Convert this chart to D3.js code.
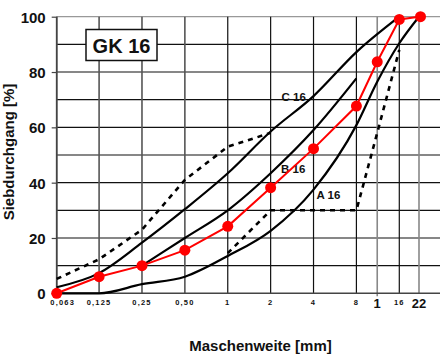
<!DOCTYPE html>
<html>
<head>
<meta charset="utf-8">
<script src="https://cdn.jsdelivr.net/npm/d3@7"></script>
<style>
  body { margin: 0; background: #fff; }
  svg { display: block; font-family: "Liberation Sans", Arial, sans-serif; }
</style>
</head>
<body>
<div id="chart"></div>
<script>
// sieve sizes (mm) and the labels printed under them
var sieves = [0.063, 0.125, 0.25, 0.5, 1, 2, 4, 8, 11.2, 16, 22];
var sieveLabels = ["0,063", "0,125", "0,25", "0,50", "1", "2", "4", "8", "1", "16", "22"];

var yTicks = [0, 20, 40, 60, 80, 100];
var yGrid = [10, 20, 30, 40, 50, 60, 70, 80, 90, 100];

// grading curves, passing % per sieve
var sievesA = [0.063, 0.125, 0.25, 0.5, 1, 2, 4, 8, 11.2, 16, 22];
var curveA = [0, 0, 3.3, 6, 13.5, 22.6, 37.5, 60.8, 76.5, 90.4, 100];

var sievesB = [0.25, 0.5, 1, 2, 4, 8];
var curveB = [10, 20, 30, 43.4, 59, 77.7];

var sievesC = [0.063, 0.125, 0.25, 0.5, 1, 2, 4, 8, 16];
var curveC = [2.2, 7.3, 18.3, 30.4, 43.4, 58.5, 71.3, 87.2, 100];

var sievesU1 = [0.063, 0.125, 0.25, 0.5, 1, 2];
var curveU1 = [5.2, 12.3, 23, 41, 53, 58];

var sievesU2 = [1, 2, 8, 11.2, 16];
var curveU2 = [14.5, 30, 30, 58, 88];

// measured mix (red)
var mixValues = [0, 6, 10, 15.6, 24.2, 38.2, 52.3, 67.7, 83.7, 99, 100];

var width = 440, height = 354;

var svg = d3.select("#chart").append("svg")
    .attr("width", width)
    .attr("height", height);

var x = d3.scaleLog().domain([0.063, 22]).range([56.7, 419]);
var y = d3.scaleLinear().domain([0, 100]).range([293.3, 16.7]);

var grid = svg.append("g");

// horizontal grid
grid.selectAll("line.h").data(yGrid).enter().append("line")
    .attr("class", "h")
    .attr("x1", x(0.063)).attr("x2", width)
    .attr("y1", function (d) { return y(d); })
    .attr("y2", function (d) { return y(d); })
    .style("stroke", function (d) { return d == 100 ? "#999" : "#111"; })
    .style("stroke-width", 1.2);

// vertical grid, one per sieve
grid.selectAll("line.v").data(sieves).enter().append("line")
    .attr("class", "v")
    .attr("x1", function (d) { return x(d); })
    .attr("x2", function (d) { return x(d); })
    .attr("y1", y(100)).attr("y2", function (d) { return d == 11.2 ? y(0) + 3 : y(0); })
    .style("stroke", function (d) {
        if (d == 11.2 || d == 22) return "#888";
        if (d < 1) return "#555";
        return "#111";
    })
    .style("stroke-width", function (d) { return (d == 11.2 || d == 22 || d < 1) ? 1.6 : 1.2; });

// axes
svg.append("line")
    .attr("x1", x(0.063)).attr("x2", width)
    .attr("y1", y(0)).attr("y2", y(0))
    .style("stroke", "#444").style("stroke-width", 1.5);
svg.append("line")
    .attr("x1", x(0.063)).attr("x2", x(0.063))
    .attr("y1", y(100)).attr("y2", y(0))
    .style("stroke", "#444").style("stroke-width", 1.5);

var yAxis = d3.axisLeft(y).tickValues(yTicks).tickSize(5).tickPadding(6);
var yg = svg.append("g").attr("transform", "translate(" + x(0.063) + ",0)").call(yAxis);
yg.select(".domain").remove();
yg.selectAll("line").style("stroke", "#444").style("stroke-width", 1.2);
yg.selectAll("text")
    .style("font-size", "15px").style("font-weight", "bold")
    .style("fill", "#111")
    .attr("dy", "0.36em");

// x tick labels
svg.append("g").selectAll("text").data(sieves).enter().append("text")
    .attr("x", function (d, i) { return x(d) + (i == 0 ? 6 : 0); })
    .attr("y", function (d) { return (d == 11.2 || d == 22) ? 307.5 : 304.5; })
    .attr("text-anchor", "middle")
    .style("font-weight", "bold")
    .style("fill", "#111")
    .style("font-size", function (d) { return (d == 11.2 || d == 22) ? "13px" : "7.5px"; })
    .style("letter-spacing", function (d) { return (d == 11.2 || d == 22) ? "0px" : "1.2px"; })
    .text(function (d, i) { return sieveLabels[i]; });

// axis titles
svg.append("text")
    .attr("x", 260.5).attr("y", 350.5)
    .attr("text-anchor", "middle")
    .style("font-size", "15px").style("font-weight", "bold").style("fill", "#111")
    .text("Maschenweite [mm]");

svg.append("text")
    .attr("transform", "translate(13.5,152) rotate(-90)")
    .attr("text-anchor", "middle")
    .style("font-size", "15px").style("font-weight", "bold").style("fill", "#111")
    .text("Siebdurchgang [%]");

// curves
var smooth = d3.line()
    .x(function (d) { return x(d[0]); })
    .y(function (d) { return y(d[1]); })
    .curve(d3.curveMonotoneX);

var straight = d3.line()
    .x(function (d) { return x(d[0]); })
    .y(function (d) { return y(d[1]); });

function pairs(xs, ys) {
    return xs.map(function (v, i) { return [v, ys[i]]; });
}

var solid = [pairs(sievesA, curveA), pairs(sievesB, curveB), pairs(sievesC, curveC)];
var dashed = [pairs(sievesU1, curveU1), pairs(sievesU2, curveU2)];

svg.append("g").selectAll("path").data(dashed).enter().append("path")
    .attr("d", straight)
    .style("fill", "none")
    .style("stroke", "#000")
    .style("stroke-width", 2.6)
    .style("stroke-dasharray", "5,5");

svg.append("g").selectAll("path").data(solid).enter().append("path")
    .attr("d", smooth)
    .style("fill", "none")
    .style("stroke", "#000")
    .style("stroke-width", 2.2);

// curve labels
var curveLabels = [
    { t: "C 16", x: 281.5, y: 100.7 },
    { t: "B 16", x: 281, y: 173 },
    { t: "A 16", x: 316.5, y: 199 }
];
svg.append("g").selectAll("text").data(curveLabels).enter().append("text")
    .attr("x", function (d) { return d.x; })
    .attr("y", function (d) { return d.y; })
    .style("font-size", "11.5px").style("font-weight", "bold").style("fill", "#111")
    .text(function (d) { return d.t; });

// red mix line
var mix = pairs(sieves, mixValues);

svg.append("path")
    .datum(mix)
    .attr("d", straight)
    .style("fill", "none")
    .style("stroke", "#ff0000")
    .style("stroke-width", 2);

svg.append("g").selectAll("circle").data(mix).enter().append("circle")
    .attr("cx", function (d) { return x(d[0]) + (d[0] == 22 ? 1.5 : 0); })
    .attr("cy", function (d) { return y(d[1]); })
    .attr("r", 5.5)
    .style("fill", "#ff0000");

// GK 16 box
svg.append("rect")
    .attr("x", 86).attr("y", 29.5)
    .attr("width", 71).attr("height", 31)
    .style("fill", "#fff")
    .style("stroke", "#111")
    .style("stroke-width", 1.5);
svg.append("text")
    .attr("x", 121.5).attr("y", 53)
    .attr("text-anchor", "middle")
    .style("font-size", "20px").style("font-weight", "bold").style("fill", "#111")
    .text("GK 16");
</script>
</body>
</html>
